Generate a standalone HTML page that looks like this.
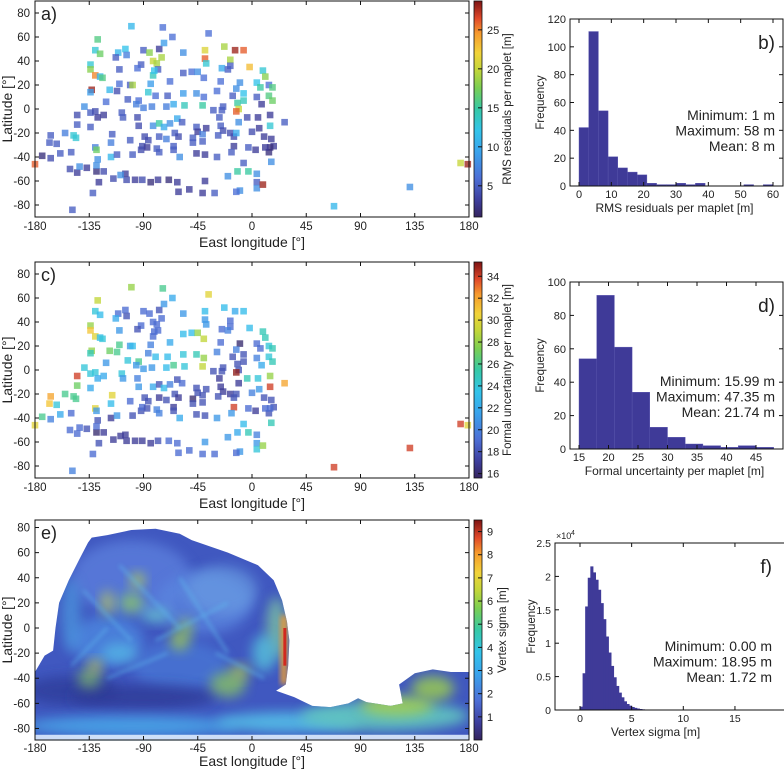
<!DOCTYPE html>
<html><head><meta charset="utf-8"><style>
body{margin:0;background:#fff;}
svg{display:block;font-family:"Liberation Sans",sans-serif;}
</style></head><body>
<svg id="fig" width="784" height="770" viewBox="0 0 784 770">
<defs>
<filter id="blur2" x="-50%" y="-50%" width="200%" height="200%"><feGaussianBlur stdDeviation="2"/></filter>
<filter id="blur3" x="-50%" y="-50%" width="200%" height="200%"><feGaussianBlur stdDeviation="3"/></filter>
<filter id="blur6" x="-50%" y="-50%" width="200%" height="200%"><feGaussianBlur stdDeviation="6"/></filter>
<clipPath id="eclip"><path id="eshape" d=""/></clipPath>
<linearGradient id="cbgrad" x1="0" y1="1" x2="0" y2="0">
<stop offset="0" stop-color="#35245e"/><stop offset="0.08" stop-color="#3e3f9e"/><stop offset="0.18" stop-color="#4d6fd6"/><stop offset="0.3" stop-color="#3aa3ec"/><stop offset="0.4" stop-color="#33c4ea"/><stop offset="0.5" stop-color="#36c9a6"/><stop offset="0.6" stop-color="#7ccf52"/><stop offset="0.68" stop-color="#c2d63a"/><stop offset="0.76" stop-color="#f2d33a"/><stop offset="0.85" stop-color="#f69a2d"/><stop offset="0.92" stop-color="#e0482a"/><stop offset="1" stop-color="#7d1414"/>
</linearGradient>
</defs>
<g id="root"></g>
</svg>
<script>
// ---- data ----
const lon = [-100,-74,-66,-36,-128,-130,-126,-105,-111,-104,-113,-90,-85,-77,-73,-82,-75,-79,-78,-92,-95,-110,-134,-134,-130,-126,-124,-133,-134,-110,-101,-99,-118,-112,-121,-103,-94,-96,-90,-84,-82,-81,-86,-80,-70,-68,-57,-50,-45,-40,-39,-39,-38,-57,-57,-46,-40,-41,-56,-65,-71,-83,-23,-14,-7,-18,-18,-25,-20,-2,9,11,-26,-29,-10,-13,-16,-7,-7,-12,-11,-13,4,7,14,17,14,17,4,8,-4,5,15,15,27,-25,-32,-27,-24,-26,-24,-18,-15,-28,-11,-13,0,6,10,16,18,14,15,11,3,16,-3,-15,-17,-20,-7,-12,-3,4,4,4,9,-10,-13,-31,-41,-39,-52,-61,-62,-69,-78,-84,-91,-97,-104,-105,-109,-115,-127,-123,-129,-137,-145,-151,-132,-149,68,131,173,179,-180,-174,-167,-168,-167,-162,-159,-155,-150,-148,-146,-145,-145,-139,-134,-134,-130,-128,-123,-130,-129,-128,-129,-143,-117,-112,-117,-116,-108,-107,-101,-99,-95,-94,-92,-91,-87,-89,-86,-82,-77,-73,-79,-77,-77,-71,-68,-62,-64,-61,-65,-65,-60,-58,-49,-49,-46,-45,-46,-41,-41,-39,-38,-29];
const lat = [69,68,60,63,58,49,46,50,47,45,43,49,47,50,55,40,43,38,33,37,34,33,37,33,28,27,26,16,14,21,20,20,16,15,6,8,7,4,1,21,28,32,14,11,11,23,30,31,31,26,49,42,38,47,13,13,10,3,3,4,2,2,52,49,49,41,36,34,33,35,32,27,23,15,22,17,11,13,7,5,0,-2,22,18,20,18,11,7,10,4,-7,-7,-5,-14,-11,-1,-1,-7,2,-14,-18,-20,-23,-22,-11,-20,-19,-16,-23,-25,-31,-36,-32,-32,-34,-44,-32,-31,-36,-56,-45,-52,-52,-54,-61,-66,-63,-68,-69,-70,-70,-60,-67,-69,-61,-59,-59,-61,-59,-59,-59,-54,-55,-58,-61,-52,-52,-49,-53,-50,-70,-84,-81,-65,-45,-46,-46,-39,-41,-28,-22,-29,-37,-20,-36,-22,-24,-13,-5,2,-3,-15,-2,-7,-5,-32,-34,-42,-47,-48,-40,-38,-28,-21,-3,-7,-26,-38,-7,-14,-34,-31,-32,-23,-26,-14,-12,-15,-33,-36,-23,-25,-12,-8,-20,-23,-31,-34,-40,-11,-24,-28,-15,-19,-37,-21,-27,-38,-16,-40];
const rmsVals = [11,6,6,6,16,13,17,12,11,7,5,5,18,3,9,20,19,19,5,5,6,5,13,18,25,11,16,28,9,6,5,19,11,4,6,5,6,7,7,9,14,12,13,6,5,6,5,6,8,6,21,26,13,8,9,8,6,15,14,10,7,7,19,28,26,19,5,10,5,23,13,18,6,6,8,8,5,12,14,15,20,26,12,15,6,16,16,17,5,3,4,3,3,13,5,5,5,5,5,5,4,4,4,5,8,10,4,3,3,3,3,2,2,3,3,8,5,3,5,8,5,15,15,8,5,8,28,8,6,5,3,3,3,3,3,2,3,2,4,3,4,3,8,4,3,4,2,3,3,4,5,5,11,8,20,28,26,2,4,5,5,5,5,7,5,13,13,5,4,8,5,5,4,3,3,7,17,8,8,8,11,5,7,5,5,5,5,5,4,4,4,4,3,4,4,8,15,10,5,5,5,7,8,10,5,4,5,5,8,5,5,5,5,3,3,7,5,3,3,5];
const formalVals = [28,26,22,30,29,24,23,19,19,18,22,19,19,18,21,19,19,19,19,19,18,21,28,31,30,23,24,28,25,26,21,23,27,26,21,24,26,21,21,20,19,19,20,23,23,22,23,23,28,29,23,21,21,21,24,25,28,29,24,26,23,21,23,22,23,19,19,19,20,23,25,25,19,20,16,20,18,18,18,18,18,35,19,19,24,25,24,25,20,22,25,24,28,34,32,18,18,17,18,17,17,17,18,18,17,18,20,21,18,18,18,18,19,19,17,25,19,34,21,21,23,22,25,20,21,24,28,21,19,19,19,21,19,19,19,19,18,17,17,17,17,17,17,17,18,17,16,18,19,19,19,20,34,34,34,30,30,26,20,31,32,24,22,26,19,26,26,27,34,24,24,22,24,22,22,30,21,18,19,19,17,21,23,30,24,21,19,18,20,21,18,19,18,18,18,22,18,23,20,20,17,18,20,18,18,17,17,18,22,19,16,18,18,18,18,18,18,18,18,21];
const lonTicks = [-180,-135,-90,-45,0,45,90,135,180];
const latTicks = [-80,-60,-40,-20,0,20,40,60,80];
const bEdges0 = 0, bWidth = 3;
const bCounts = [42,111,54,21,13,10,8,2,1,1,2,1,2,0,0,0,0,1,0,1];
const bXTicks = [0,10,20,30,40,50,60];
const bYTicks = [0,20,40,60,80,100,120];
const dEdges0 = 15, dWidth = 3;
const dCounts = [54,92,61,34,13,7,3,2,1,2,1];
const dXTicks = [15,20,25,30,35,40,45];
const dYTicks = [0,20,40,60,80,100];
const fEdges0 = 0, fWidth = 0.25;
const fCounts = [0.05,0.55,1.55,1.98,2.15,2.06,1.95,1.8,1.6,1.36,1.1,0.86,0.66,0.49,0.36,0.26,0.19,0.13,0.09,0.065,0.045,0.032,0.022,0.015,0.01,0.007,0.005,0.003,0.002,0.001];
const fXTicks = [0,5,10,15];
const fYTicks = [0,0.5,1,1.5,2,2.5];
const fYLabels = ["0","0.5","1","1.5","2","2.5"];
const cbATicks = [5,10,15,20,25];
const cbCTicks = [16,18,20,22,24,26,28,30,32,34];
const cbETicks = [1,2,3,4,5,6,7,8,9];

const NS = "http://www.w3.org/2000/svg";
const root = document.getElementById('root');
function el(tag, attrs, parent){const e=document.createElementNS(NS,tag);for(const k in attrs)e.setAttribute(k,attrs[k]);(parent||root).appendChild(e);return e;}
function txt(x,y,s,size,anchor,parent,extra){const t=el('text',Object.assign({x:x,y:y,'font-size':size,'text-anchor':anchor||'middle',fill:'#222'},extra||{}),parent);t.textContent=s;return t;}
const stops=[[0,[53,36,94]],[0.08,[62,63,158]],[0.18,[77,111,214]],[0.3,[58,163,236]],[0.4,[51,196,234]],[0.5,[54,201,166]],[0.6,[124,207,82]],[0.68,[194,214,58]],[0.76,[242,211,58]],[0.85,[246,154,45]],[0.92,[224,72,42]],[1,[125,20,20]]];
function cmap(t){t=Math.max(0,Math.min(1,t));for(let i=1;i<stops.length;i++){if(t<=stops[i][0]){const a=stops[i-1],b=stops[i];const f=(t-a[0])/(b[0]-a[0]);const c=a[1].map((v,j)=>Math.round(v+(b[1][j]-v)*f));return `rgb(${c[0]},${c[1]},${c[2]})`;}}return 'rgb(125,20,20)';}

function mapPanel(opt){
  const g=el('g',{});
  
  
  const L=35,R=469,T=opt.top,B=opt.bottom||opt.top+216;
  const xs=v=>L+(v+180)*(R-L)/360;
  const ys=opt.yc!==undefined ? (v=>opt.yc-v*opt.ysc) : (v=>(T+B)/2-v*(B-T)/180);
  const lblOff=opt.lblOff||13, titleOff=opt.titleOff||30;
  opt.draw && opt.draw(g,xs,ys,L,R,T,B);
  if(opt.vals){
    opt.vals.forEach((v,i)=>{
      const s=6.6;
      const r=el('rect',{x:(xs(lon[i])-s/2).toFixed(1),y:(ys(lat[i])-s/2).toFixed(1),width:s,height:s,fill:cmap((v-opt.vmin)/(opt.vmax-opt.vmin)),'fill-opacity':0.78},g);
      
      
    });
  }
  const box=el('rect',{x:L,y:T,width:R-L,height:B-T,fill:'none',stroke:'#111','stroke-width':1},g);
  
  
  lonTicks.forEach(v=>{const x=xs(v);el('line',{x1:x,x2:x,y1:B,y2:B-4,stroke:'#111'},g);el('line',{x1:x,x2:x,y1:T,y2:T+4,stroke:'#111'},g);
    const t=txt(x,B+lblOff,String(v),11.5,'middle',g);});
  latTicks.forEach(v=>{const y=ys(v);el('line',{x1:L,x2:L+4,y1:y,y2:y,stroke:'#111'},g);el('line',{x1:R,x2:R-4,y1:y,y2:y,stroke:'#111'},g);
    const t=txt(L-5,y+4,String(v),11.5,'end',g);});
  const xt=txt((L+R)/2,B+titleOff,'East longitude [°]',14,'middle',g);
  const yt=txt(0,0,'Latitude [°]',14,'middle',g,{transform:`translate(12,${(T+B)/2}) rotate(-90)`});
  const pl=txt(L+6,T+19,opt.label,18,'start',g);
  const cb=el('rect',{x:474,y:T,width:8,height:B-T,fill:'url(#cbgrad)',stroke:'#111','stroke-width':0.8},g);
  
  const cy=v=>B-(v-opt.vmin)/(opt.vmax-opt.vmin)*(B-T);
  opt.cbt.forEach(v=>{const y=cy(v);el('line',{x1:478,x2:482,y1:y,y2:y,stroke:'#111'},g);const t=txt(487,y+4,String(v),11,'start',g);});
  const ct=txt(0,0,opt.cbtitle,11.5,'middle',g,{transform:`translate(${opt.cbx},${(T+B)/2}) rotate(-90)`});
}

function histPanel(opt){
  const g=el('g',{});
  
  
  const {L,R,T,B}=opt;
  const xs=v=>opt.x0px+(v-opt.xmin)*opt.xscale;
  const ys=v=>B-v/opt.ymax*(B-T);
  opt.counts.forEach((c,i)=>{
    if(c<=0)return;
    const x1=xs(opt.e0+i*opt.w),x2=xs(opt.e0+(i+1)*opt.w);
    const r=el('rect',{x:x1.toFixed(2),y:ys(c).toFixed(2),width:(x2-x1+(opt.nogap?0.5:0)).toFixed(2),height:(B-ys(c)).toFixed(2),fill:'#3f3a98',stroke:opt.nogap?'none':'#5b57b0','stroke-width':0.4},g);
    
  });
  el('rect',{x:L,y:T,width:R-L,height:B-T,fill:'none',stroke:'#111','stroke-width':1},g);
  opt.xt.forEach(v=>{const x=xs(v);el('line',{x1:x,x2:x,y1:B,y2:B-4,stroke:'#111'},g);el('line',{x1:x,x2:x,y1:T,y2:T+4,stroke:'#111'},g);const t=txt(x,B+12,String(v),opt.fs,'middle',g);});
  opt.yt.forEach((v,i)=>{const y=ys(v);el('line',{x1:L,x2:L+4,y1:y,y2:y,stroke:'#111'},g);el('line',{x1:R,x2:R-4,y1:y,y2:y,stroke:'#111'},g);const t=txt(L-4,y+4,opt.yl?opt.yl[i]:String(v),opt.fs,'end',g);});
  const xt=txt((L+Math.min(R,784))/2+opt.titleShift,B+26,opt.xtitle,12,'middle',g);
  const yt=txt(0,0,'Frequency',11.5,'middle',g,{transform:`translate(${opt.ytx},${(T+B)/2}) rotate(-90)`});
  const pl=txt(opt.plx,T+30,opt.label,19,'end',g);
  opt.stats.forEach((s,i)=>{const t=txt(opt.sx,opt.sy+i*15.5,s,14,'end',g);});
}

mapPanel({name:'rms-map-panel',top:1,vals:rmsVals,vmin:1,vmax:28.7,label:'a)',cbt:cbATicks,cbtitle:'RMS residuals per maplet [m]',cbx:511});
mapPanel({name:'formal-uncertainty-map-panel',top:262,vals:formalVals,vmin:15.6,vmax:35.3,label:'c)',cbt:cbCTicks,cbtitle:'Formal uncertainty per maplet [m]',cbx:511});
mapPanel({name:'vertex-sigma-map-panel',top:520,bottom:740,yc:628,ysc:1.256,lblOff:12,titleOff:26,vals:null,vmin:0,vmax:9.5,label:'e)',cbt:cbETicks,cbtitle:'Vertex sigma [m]',cbx:506,
 draw:(g,xs,ys,L,R,T,B)=>{
  const outline=[[-180,-35],[-172,-22],[-165,-18],[-163,0],[-160,20],[-152,38],[-143,55],[-136,68],[-133,72],[-120,74],[-100,78],[-80,79],[-60,75],[-50,70],[-20,60],[5,50],[18,38],[25,22],[29,5],[31,-10],[30,-30],[28,-45],[20,-50],[35,-55],[50,-62],[65,-63],[80,-60],[88,-56],[95,-59],[115,-62],[125,-60],[122,-45],[135,-36],[150,-33],[165,-35],[180,-35],[180,-90],[-180,-90]];
  const d='M'+outline.map(p=>xs(p[0]).toFixed(1)+','+ys(p[1]).toFixed(1)).join(' L')+' Z';
  document.getElementById('eshape').setAttribute('d',d);
  const cg=el('g',{'clip-path':'url(#eclip)'},g);
  
  el('rect',{x:L,y:T,width:R-L,height:B-T,fill:'#4058c0'},cg);
  const blobs=[[-100,40,50,30,'#5b7fdc',0.8],[-40,20,40,25,'#5a84de',0.8],[-120,-10,30,20,'#4f8fe4',0.7],[-60,-30,40,20,'#4a7ad8',0.7],[-150,-50,40,12,'#2f3d9a',0.8],[-90,-55,60,10,'#2e3a96',0.8],
    [-100,-78,90,8,'#4aa6e8',0.9],[30,-75,60,8,'#55c0e8',0.9],[110,-70,70,12,'#62c6c0',0.9],[120,-62,30,8,'#a8d24a',0.8],[150,-48,18,10,'#9fd24c',0.8],
    [20,0,8,25,'#7fc6a0',0.8],[-100,20,10,8,'#8fcf5a',0.7],[-80,10,12,6,'#67c4d0',0.8],[-20,-45,15,10,'#8fcf5a',0.7],[-60,-10,8,8,'#a7d44a',0.7],[10,-20,10,15,'#56c2dc',0.8],[-135,-40,10,8,'#8fcf5a',0.6],[-25,30,30,20,'#6da2e4',0.6],[-95,38,6,6,'#b8d44a',0.8],[-110,-20,15,8,'#57bde6',0.7],
    [-150,10,8,30,'#50a8e6',0.6],[-120,20,5,10,'#c6d447',0.7],[-55,0,6,8,'#9fd24c',0.6],[-10,-35,8,6,'#b8d44a',0.7],[-130,-30,6,5,'#d9d645',0.7]];
  blobs.forEach(b=>{el('ellipse',{cx:xs(b[0]),cy:ys(b[1]),rx:b[2]*1.2,ry:b[3]*1.25,fill:b[4],opacity:b[5],filter:'url(#blur6)'},cg);});
  const streaks=[[-140,30,-100,-10],[-110,50,-60,0],[-80,-10,-20,20],[-150,-30,-120,0],[-60,40,-20,-20],[-30,-20,10,-40],[-120,-40,-70,-20]];
  streaks.forEach(s=>{el('line',{x1:xs(s[0]),y1:ys(s[1]),x2:xs(s[2]),y2:ys(s[3]),stroke:'#5fb8ec','stroke-width':2.5,opacity:0.6,filter:'url(#blur2)'},cg);});
  el('rect',{x:xs(24),y:ys(10),width:6,height:ys(-45)-ys(10),fill:'#f0a030',filter:'url(#blur3)'},cg);
  el('rect',{x:xs(26),y:ys(0),width:3,height:ys(-30)-ys(0),fill:'#d02a20'},cg);
  el('rect',{x:L,y:ys(-85),width:R-L,height:B-ys(-85),fill:'#e6f2ff',opacity:0.85},cg);
 }});

histPanel({name:'rms-histogram-panel',L:570,R:783,T:19,B:186,x0px:579,xmin:0,xscale:194/60,ymax:120,counts:bCounts,e0:bEdges0,w:bWidth,xt:bXTicks,yt:bYTicks,fs:11,xtitle:'RMS residuals per maplet [m]',titleShift:-2,ytx:544,plx:775,label:'b)',stats:['Minimum: 1 m','Maximum: 58 m','Mean: 8 m'],sx:775,sy:120});
histPanel({name:'formal-uncertainty-histogram-panel',L:570,R:783,T:282,B:449,x0px:579,xmin:15,xscale:177/30,ymax:100,counts:dCounts,e0:dEdges0,w:dWidth,xt:dXTicks,yt:dYTicks,fs:11,xtitle:'Formal uncertainty per maplet [m]',titleShift:-2,ytx:544,plx:775,label:'d)',stats:['Minimum: 15.99 m','Maximum: 47.35 m','Mean: 21.74 m'],sx:775,sy:386});
histPanel({name:'vertex-sigma-histogram-panel',L:555,R:790,T:543,B:710,x0px:580,xmin:0,xscale:10.33,ymax:2.5,counts:fCounts,e0:fEdges0,w:fWidth,nogap:true,xt:fXTicks,yt:fYTicks,yl:fYLabels,fs:10.5,xtitle:'Vertex sigma [m]',titleShift:-14,ytx:535,plx:772,label:'f)',stats:['Minimum: 0.00 m','Maximum: 18.95 m','Mean: 1.72 m'],sx:772,sy:651});
const ex=txt(556,539,'×10',9,'start');
const ex2=txt(571,535,'4',7,'start');
</script>
</body></html>
